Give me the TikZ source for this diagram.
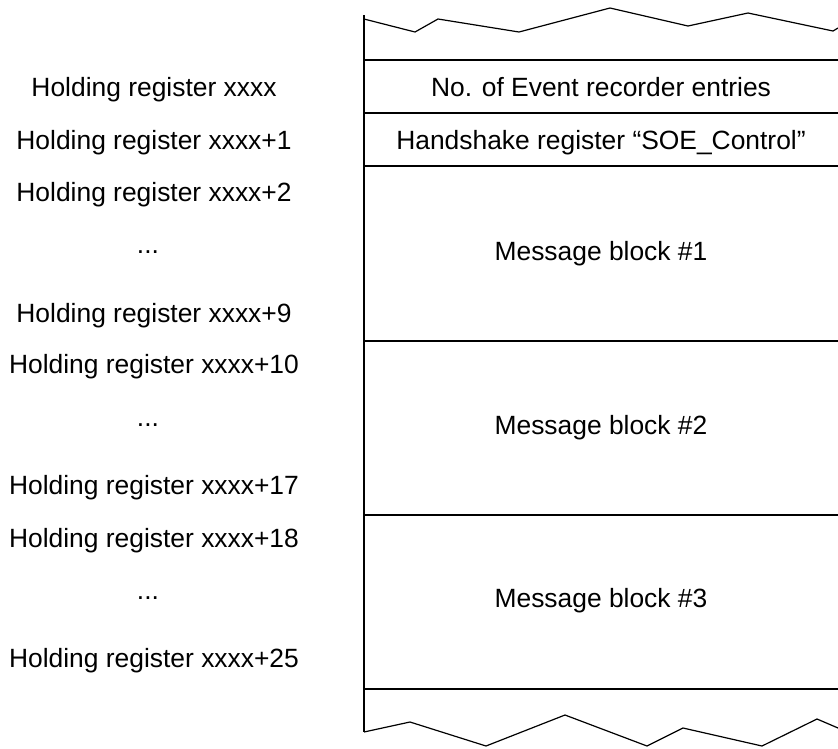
\documentclass[tikz,border=0pt]{standalone}
\usepackage{fontspec}
\setmainfont{Liberation Sans}
\begin{document}
\begin{tikzpicture}[x=1pt,y=-1pt,
  lbl/.style={anchor=base,inner sep=0pt,font=\fontsize{26.4}{31}\selectfont},
  sep/.style={line width=2pt},
  edge/.style={line width=1.2pt,line join=miter}]
\useasboundingbox (0,0) rectangle (838,748);
% column outline
\coordinate (vt) at (364,15);
\coordinate (vb) at (364,732);
\draw[sep] (vt) -- (vb);
\foreach \yy/\nm in {60/h0,113/h1,166/h2,341/h3,515/h4,689/h5}{
  \coordinate (\nm l) at (364,\yy);
  \coordinate (\nm r) at (838,\yy);
  \draw[sep] (\nm l) -- (\nm r);
}
% torn edges
\draw[edge] (364,19) -- (415,32) -- (438,19) -- (519,32) -- (610,8) -- (688,26) -- (748,13) -- (833,31) -- (838,28);
\draw[edge] (364,732) -- (410,722) -- (486,746) -- (565,715) -- (647,746) -- (683,728) -- (762,746) -- (817,719) -- (838,728);
% right contents
\node[lbl] (r1) at (601,96) {No. of Event recorder entries};
\node[lbl] (r2) at (601,149) {Handshake register “SOE\_Control”};
\node[lbl] (m1) at (601,260) {Message block \#1};
\node[lbl] (m2) at (601,434) {Message block \#2};
\node[lbl] (m3) at (601,607) {Message block \#3};
% left labels
\node[lbl] (a0) at (154,96) {Holding register xxxx};
\node[lbl] (a1) at (154,149) {Holding register xxxx+1};
\node[lbl] (a2) at (154,201) {Holding register xxxx+2};
\node[lbl] (d1) at (148,253) {...};
\node[lbl] (a9) at (154,322) {Holding register xxxx+9};
\node[lbl] (a10) at (154,373) {Holding register xxxx+10};
\node[lbl] (d2) at (148,426) {...};
\node[lbl] (a17) at (154,494) {Holding register xxxx+17};
\node[lbl] (a18) at (154,547) {Holding register xxxx+18};
\node[lbl] (d3) at (148,599) {...};
\node[lbl] (a25) at (154,667) {Holding register xxxx+25};
\end{tikzpicture}
\end{document}
